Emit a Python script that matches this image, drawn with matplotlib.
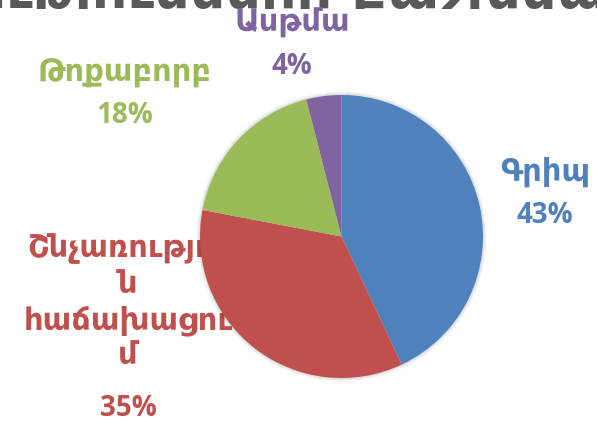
import matplotlib
matplotlib.use("Agg")
import matplotlib.pyplot as plt
from matplotlib.patches import Circle, Rectangle

categories = ["Գրիպ", "Շնչառությու\nն\nհաճախացու\nմ", "Թոքաբորբ", "Ասթմա"]
values = [43, 35, 18, 4]
colors = ["#4F81BD", "#C0504D", "#9BBB59", "#8064A2"]
title = "Հիվանդությունների բաշխվածություն"

W, H = 597, 423
fig = plt.figure(figsize=(W / 100, H / 100), dpi=100)
ax = fig.add_axes([0, 0, 1, 1])

cx, cy, r = 341.5, H - 236.5, 141.5
# soft shadow
for i, a in enumerate([0.05, 0.04, 0.03, 0.02]):
    ax.add_patch(Circle((cx, cy), r + 1 + i, facecolor="#000000", alpha=a,
                        edgecolor="none", zorder=2))
wedges, _ = ax.pie(values, colors=colors, startangle=90, counterclock=False,
                   center=(cx, cy), radius=r, frame=True,
                   wedgeprops=dict(linewidth=0, zorder=3))
ax.set_xlim(0, W)
ax.set_ylim(0, H)
ax.set_aspect("equal")
ax.axis("off")

# label positions (pixels from top): x, name-center y, percent y
pos = [(545, 172, 215), (128, 302, 408), (125, 72, 115), (292, 23, 66)]
for lab, v, c, (x, yn, yp) in zip(categories, values, colors, pos):
    ax.text(x, H - yn, lab, ha="center", va="center", color=c,
            fontsize=22, fontweight="bold", family=["DejaVu Sans"],
            linespacing=1.25, zorder=1)
    ax.text(x, H - yp, f"{v}%", ha="center", va="center", color=c,
            fontsize=20, fontweight="bold", family=["Open Sans", "DejaVu Sans"],
            zorder=1)

# title, only its lower edge visible at the top of the picture
ax.text(300, H - 8, title, ha="center", va="baseline", color="#595959",
        fontsize=40, fontweight="bold", family=["DejaVu Sans"], zorder=0.2,
        clip_on=False)
ax.add_patch(Rectangle((0, H - 60), W, 51, facecolor="white", edgecolor="none",
                       zorder=0.5))

fig.savefig("out.png", dpi=100)
